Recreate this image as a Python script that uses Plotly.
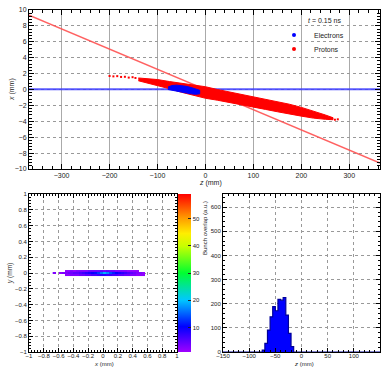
import numpy as np
import plotly.graph_objects as go

# ---------------- data ----------------
# crossing line (red) and electron axis (blue) in the z-x plane
cross_z = [-368, 364]
cross_x = [9.35, -9.25]
eaxis_z = [-368, 364]
eaxis_x = [0.02, 0.02]

# proton bunch envelope (z, upper x, lower x)
prot_z = [-140, -100, -75, -50, -25, 0, 25, 50, 75, 100, 125, 150, 175, 200, 225, 250, 266]
prot_up = [1.45, 1.25, 1.0, 0.8, 0.55, 0.35, 0.0, -0.3, -0.6, -0.9, -1.2, -1.5, -1.85, -2.25, -2.7, -3.2, -3.55]
prot_lo = [1.1, 0.45, 0.1, -0.35, -0.75, -1.1, -1.35, -1.6, -1.9, -2.2, -2.5, -2.8, -3.1, -3.35, -3.6, -3.75, -3.8]
# sparse proton tails
tail_z = [-200, -192, -184, -176, -168, -160, -152, -146, 250, 258, 264, 270, 276]
tail_x = [1.7, 1.65, 1.68, 1.58, 1.6, 1.5, 1.55, 1.45, -3.55, -3.7, -3.6, -3.8, -3.75]

# electron bunch envelope
elec_z = [-78, -70, -60, -50, -40, -30, -20, -12]
elec_up = [0.3, 0.5, 0.55, 0.5, 0.4, 0.25, 0.1, -0.1]
elec_lo = [0.0, -0.1, -0.25, -0.35, -0.45, -0.55, -0.6, -0.55]

# bunch overlap map in the x-y plane
map_x = [-0.66, -0.62, -0.58, -0.54, -0.50, -0.46, -0.42, -0.38, -0.34, -0.30, -0.26,
         -0.22, -0.18, -0.14, -0.10, -0.06, -0.02, 0.02, 0.06, 0.10, 0.14, 0.18, 0.22,
         0.26, 0.30, 0.34, 0.38, 0.42, 0.46, 0.50, 0.54, 0.58]
map_y = [-0.025, 0.0, 0.025]
map_row_bot = [0, 0, 0, 0, 2, 2, 3, 3, 3, 4, 4, 5, 5, 6, 6, 7, 8, 8, 7, 7, 6, 6, 5, 5, 4, 4, 3, 3, 2, 2, 2, 0]
map_row_mid = [3, 0, 2, 3, 3, 4, 4, 5, 5, 6, 7, 8, 9, 10, 11, 13, 16, 19, 17, 14, 12, 10, 9, 8, 7, 6, 5, 4, 3, 3, 2, 0]
map_row_top = [0, 0, 0, 0, 2, 2, 3, 2, 3, 3, 3, 3, 4, 4, 4, 4, 5, 4, 5, 4, 4, 3, 3, 3, 3, 2, 2, 2, 2, 0, 0, 0]

# overlap histogram along z (5 mm bins, non-empty bins start at -75 mm)
hist_lo_edge = -150
hist_hi_edge = 150
hist_bin = 5
hist_first = -75
hist_counts = [8, 36, 91, 146, 188, 171, 218, 215, 226, 153, 77, 22]

# ---------------- figure ----------------
W, H = 384, 367
FONT = "Liberation Sans"
TXT = "#222222"


def px(xp):
    return xp / W


def py(yp):
    return 1 - yp / H


fig = go.Figure()

# legend entries (points sit inside the bunches, hidden under them)
fig.add_trace(go.Scatter(x=[elec_z[3]], y=[0.05], mode="markers", name="Electrons",
                         marker=dict(color="#0000ff", size=4), legend="legend",
                         showlegend=True, hoverinfo="skip", xaxis="x", yaxis="y"))
fig.add_trace(go.Scatter(x=[prot_z[9]], y=[-1.5], mode="markers", name="Protons",
                         marker=dict(color="#ff0000", size=4), legend="legend2",
                         showlegend=True, hoverinfo="skip", xaxis="x", yaxis="y"))

# top panel lines
fig.add_trace(go.Scatter(x=eaxis_z, y=eaxis_x, mode="lines",
                         line=dict(color="rgba(60,60,255,0.85)", width=2),
                         showlegend=False, hoverinfo="skip", xaxis="x", yaxis="y"))
fig.add_trace(go.Scatter(x=cross_z, y=cross_x, mode="lines",
                         line=dict(color="rgba(255,80,80,0.9)", width=1.5),
                         showlegend=False, hoverinfo="skip", xaxis="x", yaxis="y"))
# proton bunch
fig.add_trace(go.Scatter(x=prot_z + prot_z[::-1], y=prot_up + prot_lo[::-1],
                         fill="toself", fillcolor="#ff0000", mode="lines",
                         line=dict(color="#ff0000", width=1),
                         showlegend=False, hoverinfo="skip", xaxis="x", yaxis="y"))
fig.add_trace(go.Scatter(x=tail_z, y=tail_x, mode="markers",
                         marker=dict(color="#ff0000", size=2, symbol="square"),
                         showlegend=False, hoverinfo="skip", xaxis="x", yaxis="y"))
# electron bunch
fig.add_trace(go.Scatter(x=elec_z + elec_z[::-1], y=elec_up + elec_lo[::-1],
                         fill="toself", fillcolor="#0000ff", mode="lines",
                         line=dict(color="#0000ff", width=1),
                         showlegend=False, hoverinfo="skip", xaxis="x", yaxis="y"))

# overlap map
zmap = [[(v if v > 0 else None) for v in row] for row in (map_row_bot, map_row_mid, map_row_top)]
cscale = [
    [0.0, "#a000ff"],
    [0.16, "#0000ff"],
    [0.33, "#00c8ff"],
    [0.5, "#00ff30"],
    [0.67, "#c8ff00"],
    [0.75, "#ffee00"],
    [0.85, "#ff9900"],
    [1.0, "#ff0000"],
]
fig.add_trace(go.Heatmap(x=map_x, y=map_y, z=zmap, zmin=1, zmax=59,
                         colorscale=cscale, hoverinfo="skip", xaxis="x2", yaxis="y2",
                         colorbar=dict(x=px(178), xanchor="left", xpad=0, ypad=0,
                                       y=py(352), yanchor="bottom",
                                       len=(352 - 194) / H, lenmode="fraction",
                                       thickness=13, thicknessmode="pixels",
                                       outlinewidth=0, ticks="inside", ticklen=3,
                                       tickcolor="#222", tickvals=[10, 20, 30, 40, 50],
                                       tickfont=dict(size=6, color=TXT, family=FONT))))

# overlap histogram
edges = np.arange(hist_lo_edge, hist_hi_edge + hist_bin, hist_bin)
counts = np.zeros(len(edges) - 1)
i0 = int((hist_first - hist_lo_edge) / hist_bin)
counts[i0:i0 + len(hist_counts)] = hist_counts
fig.add_trace(go.Scatter(x=np.append(edges[:-1], edges[-1]), y=np.append(counts, counts[-1]),
                         mode="lines", line_shape="hv", fill="tozeroy",
                         fillcolor="#0000ff", line=dict(color="#000099", width=1.2),
                         showlegend=False, hoverinfo="skip", xaxis="x3", yaxis="y3"))


def ax(**kw):
    base = dict(showline=True, linecolor="black", linewidth=1, mirror="allticks",
                ticks="inside", ticklen=5, tickcolor="black", tickwidth=1,
                tickfont=dict(size=7, color=TXT, family=FONT), tickangle=0,
                showgrid=True, gridcolor="#999999", gridwidth=1, griddash="dot",
                zeroline=False, layer="above traces", automargin=False)
    base.update(kw)
    return base


small = dict(size=6, color=TXT, family=FONT)
leg = dict(xanchor="left", yanchor="middle", bgcolor="rgba(0,0,0,0)", borderwidth=0,
           itemwidth=30, font=dict(size=7, color=TXT, family=FONT), itemsizing="trace")


def note(text, xp, yp, angle=0, size=7, anchor="center"):
    return dict(text=text, xref="paper", yref="paper", x=px(xp), y=py(yp),
                xanchor=anchor, yanchor="middle", textangle=angle, showarrow=False,
                font=dict(size=size, color=TXT, family=FONT))


fig.update_layout(
    width=W, height=H, autosize=False,
    margin=dict(l=0, r=0, t=0, b=0),
    paper_bgcolor="white", plot_bgcolor="white",
    font=dict(family=FONT, size=7, color=TXT),
    showlegend=True,
    legend=dict(x=px(274), y=py(35), **leg),
    legend2=dict(x=px(274), y=py(49), **leg),
    xaxis=ax(domain=[px(29), px(380)], range=[-368, 364], anchor="y",
             dtick=100, griddash="solid", gridcolor="#aaaaaa",
             minor=dict(ticks="inside", ticklen=3, dtick=20, tickcolor="black", showgrid=False)),
    yaxis=ax(domain=[py(169), py(10)], range=[-10, 10], anchor="x",
             dtick=2,
             minor=dict(ticks="inside", ticklen=3, dtick=0.4, tickcolor="black", showgrid=False)),
    xaxis2=ax(domain=[px(29), px(177)], range=[-1, 1], anchor="y2",
              dtick=0.2, ticklen=4, tickfont=small,
              minor=dict(ticks="inside", ticklen=2, dtick=0.04, tickcolor="black", showgrid=False)),
    yaxis2=ax(domain=[py(352), py(194)], range=[-1, 1], anchor="x2",
              dtick=0.2, ticklen=4, tickfont=small,
              minor=dict(ticks="inside", ticklen=2, dtick=0.04, tickcolor="black", showgrid=False)),
    xaxis3=ax(domain=[px(223), px(380)], range=[-150, 150], anchor="y3",
              dtick=50, ticklen=4, tickfont=small,
              minor=dict(ticks="inside", ticklen=2, dtick=10, tickcolor="black", showgrid=False)),
    yaxis3=ax(domain=[py(352), py(194)], range=[0, 655], anchor="x3",
              dtick=100, ticklen=4, tickfont=small,
              minor=dict(ticks="inside", ticklen=2, dtick=20, tickcolor="black", showgrid=False)),
    annotations=[
        note("<i>t</i> = 0.15 ns", 306, 20, anchor="left"),
        note("<i>z</i> (mm)", 210, 183),
        note("<i>x</i> (mm)", 12, 90, angle=-90),
        note("<i>y</i> (mm)", 10, 274, angle=-90, size=6.5),
        note("Bunch overlap (a.u.)", 205, 228, angle=-90, size=6),
        note("<i>x</i> (mm)", 104, 363.5, size=6),
        note("<i>z</i> (mm)", 304, 363.5, size=6),
    ],
)

# pull the bottom tick labels a little closer to the frame, if supported
for name in ("xaxis2", "xaxis3"):
    try:
        fig.layout[name].ticklabelstandoff = -2
    except (ValueError, AttributeError):
        pass

fig.write_html("out.html", config={"displayModeBar": False, "staticPlot": True},
               post_script="document.body.style.margin='0';document.body.style.overflow='hidden';")
